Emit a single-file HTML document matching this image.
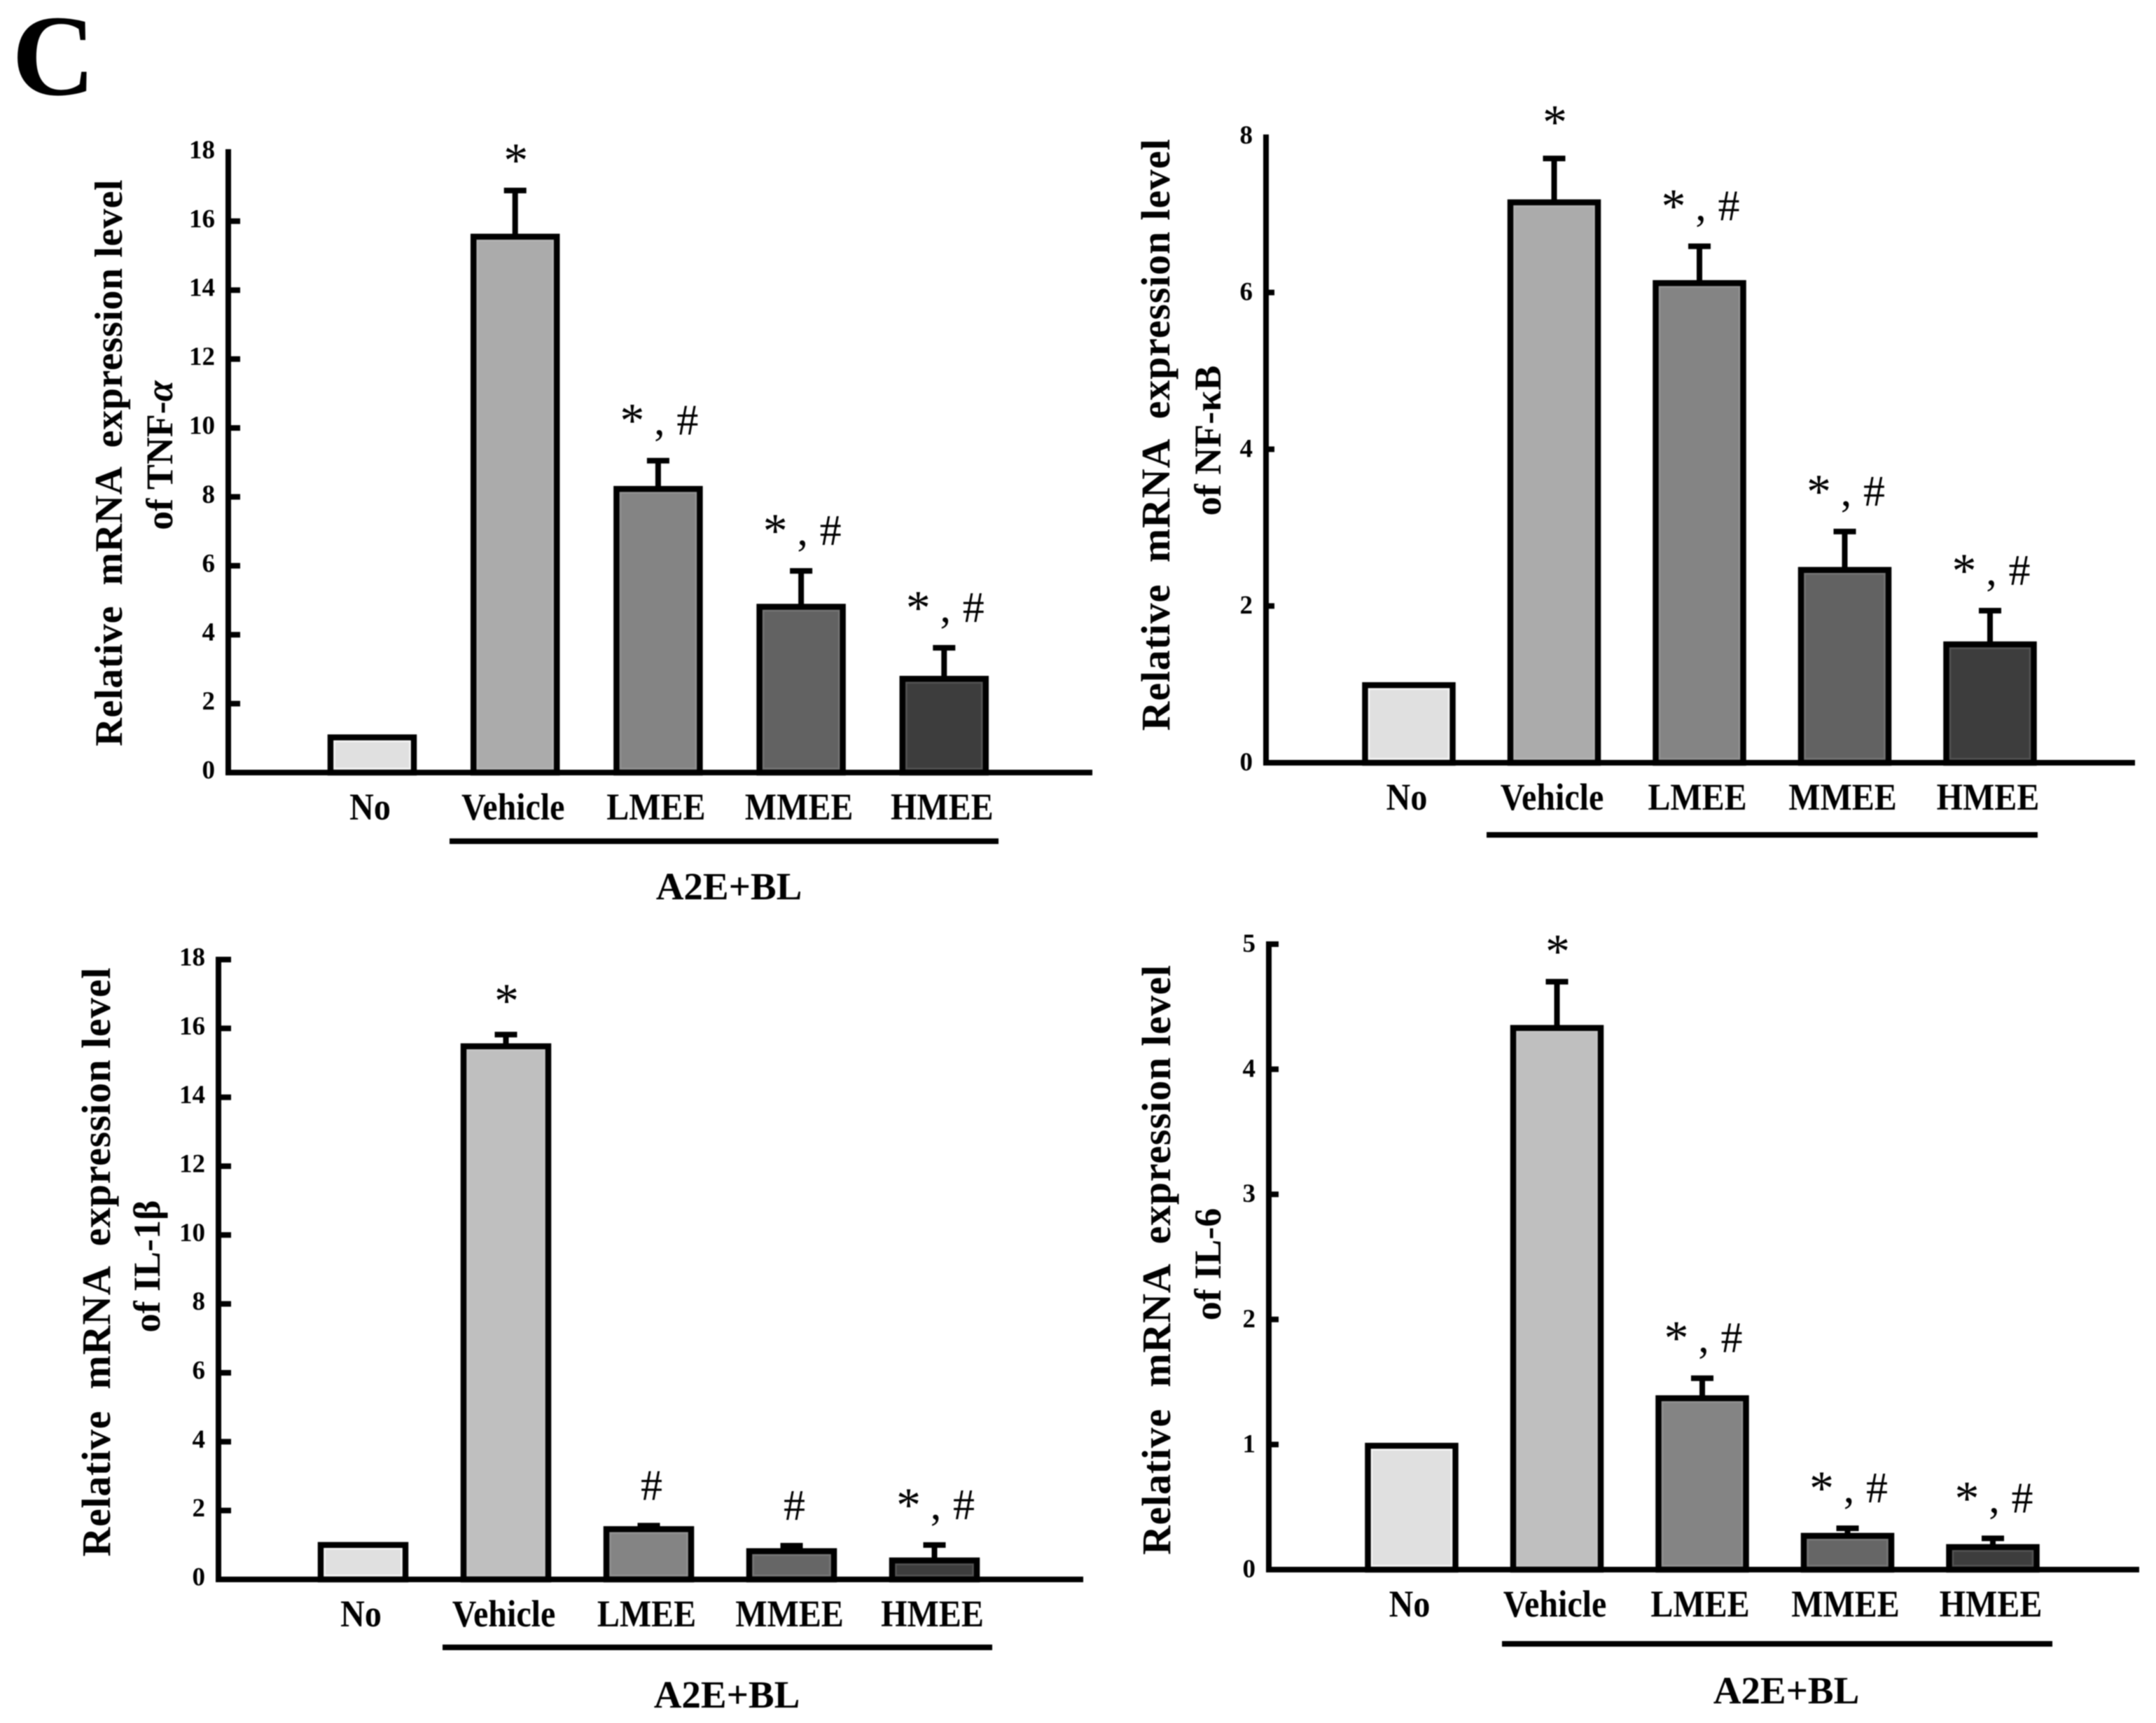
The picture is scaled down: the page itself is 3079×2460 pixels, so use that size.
<!DOCTYPE html>
<html lang="en">
<head>
<meta charset="utf-8">
<title>Relative mRNA expression levels</title>
<style>
html,body{margin:0;padding:0;background:#fff;width:3079px;height:2460px;overflow:hidden}
svg{display:block;filter:blur(0.8px)}
text{font-family:"Liberation Serif","DejaVu Serif",serif;fill:#000}
.b{font-weight:bold}
</style>
</head>
<body>
<svg id="figure" xmlns="http://www.w3.org/2000/svg" width="3079" height="2460" viewBox="0 0 3079 2460">
  <rect x="0" y="0" width="3079" height="2460" fill="#fff"/>
  <text class="b" x="17" y="135" font-size="165">C</text>

  <text class="b" font-size="56" text-anchor="middle" textLength="809" lengthAdjust="spacing" xml:space="preserve" transform="translate(174 661) rotate(-90)">Relative  mRNA  expression level</text>
  <text class="b" font-size="54" text-anchor="middle" transform="translate(246 650) rotate(-90)">of TNF-<tspan font-style="italic">α</tspan></text>

  <text class="b" font-size="58" text-anchor="middle" textLength="845" lengthAdjust="spacing" xml:space="preserve" transform="translate(1670 621) rotate(-90)">Relative  mRNA  expression level</text>
  <text class="b" font-size="54" text-anchor="middle" transform="translate(1743 629) rotate(-90)">of NF-κB</text>

  <text class="b" font-size="58" text-anchor="middle" textLength="841" lengthAdjust="spacing" xml:space="preserve" transform="translate(157 1802) rotate(-90)">Relative  mRNA  expression level</text>
  <text class="b" font-size="54" text-anchor="middle" transform="translate(228 1808) rotate(-90)">of IL-1β</text>

  <text class="b" font-size="58" text-anchor="middle" textLength="842" lengthAdjust="spacing" xml:space="preserve" transform="translate(1671 1799) rotate(-90)">Relative  mRNA  expression level</text>
  <text class="b" font-size="54" text-anchor="middle" transform="translate(1743 1805) rotate(-90)">of IL-6</text>
</svg>
<script>
// Shared categories
const categories = ['No', 'Vehicle', 'LMEE', 'MMEE', 'HMEE'];

// TNF-alpha
const tnfValues = [1.02, 15.55, 8.23, 4.81, 2.72];
const tnfErrorTops = [null, 16.89, 9.05, 5.85, 3.62];
const tnfMarks = ['', '*', '*#', '*#', '*#'];
const tnfTicks = [0, 2, 4, 6, 8, 10, 12, 14, 16, 18];

// NF-kB
const nfkbValues = [0.99, 7.15, 6.12, 2.46, 1.51];
const nfkbErrorTops = [null, 7.71, 6.59, 2.95, 1.94];
const nfkbMarks = ['', '*', '*#', '*#', '*#'];
const nfkbTicks = [0, 2, 4, 6, 8];

// IL-1beta
const il1bValues = [1.0, 15.48, 1.46, 0.82, 0.55];
const il1bErrorTops = [null, 15.82, 1.56, 0.98, 1.0];
const il1bMarks = ['', '*', '#', '#', '*#'];
const il1bTicks = [0, 2, 4, 6, 8, 10, 12, 14, 16, 18];

// IL-6
const il6Values = [0.99, 4.33, 1.37, 0.27, 0.18];
const il6ErrorTops = [null, 4.70, 1.53, 0.33, 0.25];
const il6Marks = ['', '*', '*#', '*#', '*#'];
const il6Ticks = [0, 1, 2, 3, 4, 5];

const svg = document.getElementById('figure');
const NS = 'http://www.w3.org/2000/svg';

function line(x1, y1, x2, y2, w, name) {
  const el = document.createElementNS(NS, 'line');
  el.setAttribute('x1', x1);
  el.setAttribute('y1', y1);
  el.setAttribute('x2', x2);
  el.setAttribute('y2', y2);
  el.setAttribute('stroke', '#000');
  el.setAttribute('stroke-width', w);
  
  
  svg.appendChild(el);
  return el;
}

function label(str, x, y, size, anchor, bold, name) {
  const el = document.createElementNS(NS, 'text');
  el.setAttribute('x', x);
  el.setAttribute('y', y);
  el.setAttribute('font-size', size);
  el.setAttribute('text-anchor', anchor);
  if (bold) el.setAttribute('class', 'b');
  el.textContent = str;
  
  
  svg.appendChild(el);
  return el;
}

function drawPanel(p) {
  const yScale = v => p.y0 - v * p.unit;
  const xScale = i => p.x0 + i * p.step;

  // bars and error bars
  p.values.forEach((v, i) => {
    const cx = xScale(i), top = yScale(v), catName = categories[i].toLowerCase();
    if (p.errorTops[i] !== null) {
      const capY = yScale(p.errorTops[i]);
      line(cx, top, cx, capY, 8, p.id + '-error-stem-' + catName);
      line(cx - 16, capY, cx + 16, capY, 8, p.id + '-error-cap-' + catName);
    }
    const bar = document.createElementNS(NS, 'rect');
    bar.setAttribute('x', cx - p.barW / 2);
    bar.setAttribute('y', top);
    bar.setAttribute('width', p.barW);
    bar.setAttribute('height', p.y0 - top);
    bar.setAttribute('fill', p.colors[i]);
    bar.setAttribute('stroke', '#000');
    bar.setAttribute('stroke-width', 8.5);
    
    
    svg.appendChild(bar);

    const ring = document.createElementNS(NS, 'rect');
    ring.setAttribute('x', cx - p.barW / 2 + 5.5);
    ring.setAttribute('y', top + 5.5);
    ring.setAttribute('width', p.barW - 11);
    ring.setAttribute('height', Math.max(0, p.y0 - top - 11));
    ring.setAttribute('fill', 'none');
    ring.setAttribute('stroke', '#fff');
    ring.setAttribute('stroke-opacity', i === 0 ? 0.7 : 0.12);
    ring.setAttribute('stroke-width', 2.5);
    
    
    svg.appendChild(ring);

    // category label
    const cat = label(categories[i], 0, 0, 48, 'middle', true, p.id + '-category-' + catName);
    cat.setAttribute('transform', 'translate(' + (cx - 3) + ' ' + (p.y0 + 67) + ') scale(1 1.12)');

    // significance marks
    const m = p.marks[i];
    if (m) {
      const capY = yScale(p.errorTops[i]);
      if (m === '*') {
        label('*', cx + 1, capY - p.starGap + 30, 70, 'middle', false, p.id + '-significance-star-' + catName);
      } else if (m === '#') {
        label('#', cx + 4, capY - 56 + 19, 62, 'middle', false, p.id + '-significance-hash-' + catName);
      } else {
        label('*', cx - 37, capY - 64 + 30, 70, 'middle', false, p.id + '-significance-star-' + catName);
        label(',', cx + 2, capY - 44 + 7, 62, 'middle', false, p.id + '-significance-comma-' + catName);
        label('#', cx + 42, capY - 56 + 19, 62, 'middle', false, p.id + '-significance-hash-' + catName);
      }
    }
  });

  // y axis and ticks
  line(p.axisX, p.axisTop, p.axisX, p.y0 + 4, 8, p.id + '-y-axis');
  p.ticks.forEach((t, i) => {
    const y = yScale(t);
    if (t !== 0 && !(i === p.ticks.length - 1 && !p.topTick)) {
      line(p.axisX, y, p.axisX + p.tickLen, y, 8, p.id + '-y-tick-' + t);
    }
    label(String(t), p.axisX - 19, y + p.labelDy + 13, 37, 'end', true, p.id + '-y-tick-label-' + t);
  });

  // x axis
  line(p.axisX - 4, p.y0, p.axisEnd, p.y0, 8, p.id + '-x-axis');

  // group bracket
  line(p.ruleX1, p.ruleY, p.ruleX2, p.ruleY, 8, p.id + '-group-underline');
  if (p.groupY) {
    label('A2E+BL', p.groupX, p.groupY, 55, 'middle', true, p.id + '-group-label');
  }
}

const greysTop = ['#e0e0e0', '#ababab', '#848484', '#626262', '#3d3d3d'];
const greysBottom = ['#e0e0e0', '#bfbfbf', '#848484', '#666666', '#3d3d3d'];

drawPanel({
  id: 'tnf', values: tnfValues, errorTops: tnfErrorTops, marks: tnfMarks, ticks: tnfTicks, colors: greysTop,
  y0: 1103, unit: 49.2, axisX: 326, axisTop: 213, axisEnd: 1560, tickLen: 17, topTick: false, labelDy: -4.5,
  x0: 531.5, step: 204.2, barW: 119, starGap: 50,
  ruleX1: 642, ruleX2: 1426, ruleY: 1201, groupX: 1041, groupY: 1284
});
drawPanel({
  id: 'nfkb', values: nfkbValues, errorTops: nfkbErrorTops, marks: nfkbMarks, ticks: nfkbTicks, colors: greysTop,
  y0: 1089, unit: 111.9, axisX: 1808, axisTop: 192, axisEnd: 3049, tickLen: 12, topTick: false, labelDy: -2,
  x0: 2012, step: 207.5, barW: 125, starGap: 59,
  ruleX1: 2123, ruleX2: 2910, ruleY: 1192, groupX: 0, groupY: 0
});
drawPanel({
  id: 'il1b', values: il1bValues, errorTops: il1bErrorTops, marks: il1bMarks, ticks: il1bTicks, colors: greysBottom,
  y0: 2255, unit: 49.17, axisX: 312, axisTop: 1366, axisEnd: 1547, tickLen: 18, topTick: true, labelDy: -4.5,
  x0: 518.5, step: 204, barW: 121, starGap: 55,
  ruleX1: 632, ruleX2: 1417, ruleY: 2352, groupX: 1038, groupY: 2438
});
drawPanel({
  id: 'il6', values: il6Values, errorTops: il6ErrorTops, marks: il6Marks, ticks: il6Ticks, colors: greysBottom,
  y0: 2241, unit: 178.6, axisX: 1812, axisTop: 1344, axisEnd: 3055, tickLen: 14, topTick: true, labelDy: -2,
  x0: 2016, step: 207.5, barW: 125, starGap: 50,
  ruleX1: 2145, ruleX2: 2931, ruleY: 2347, groupX: 2551, groupY: 2432
});
</script>
</body>
</html>
